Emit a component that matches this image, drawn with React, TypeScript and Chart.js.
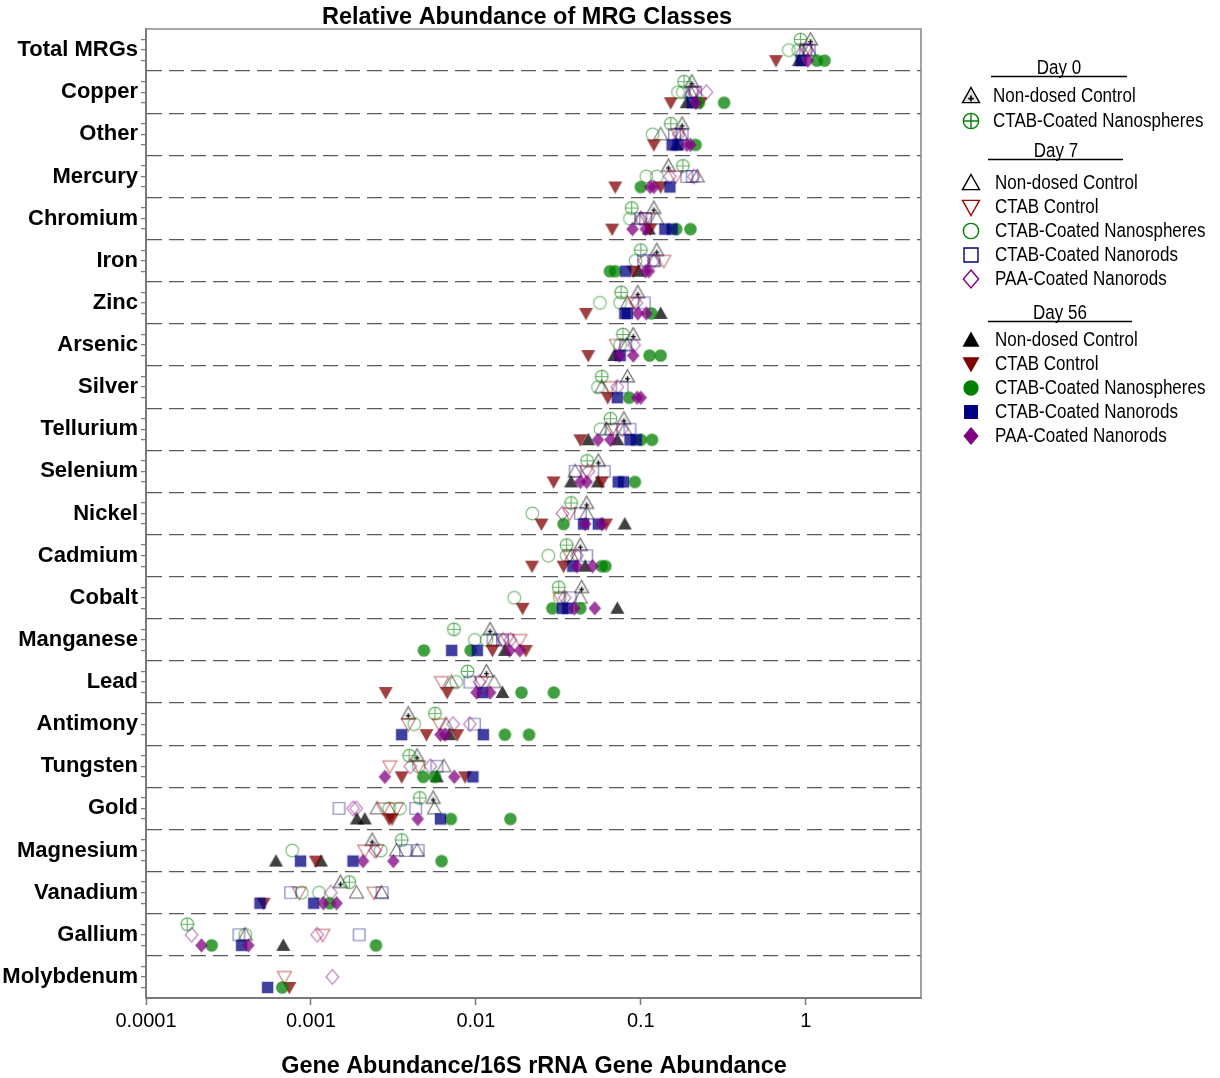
import React, { useEffect, useRef } from 'react';
import { Chart, registerables } from 'chart.js';

Chart.register(...registerables);

const FONT = "'Liberation Sans', Arial, Helvetica, sans-serif";

const categories = [
  'Total MRGs', 'Copper', 'Other', 'Mercury', 'Chromium', 'Iron', 'Zinc', 'Arsenic',
  'Silver', 'Tellurium', 'Selenium', 'Nickel', 'Cadmium', 'Cobalt', 'Manganese', 'Lead',
  'Antimony', 'Tungsten', 'Gold', 'Magnesium', 'Vanadium', 'Gallium', 'Molybdenum',
];

const xTickValues = [0.0001, 0.001, 0.01, 0.1, 1];
const xTickLabels = ['0.0001', '0.001', '0.01', '0.1', '1'];

const dayLabels = ['Day 0', 'Day 7', 'Day 56'];
const dayOffsets = [-0.25, 0, 0.25];

// Replicate values per MRG class (same order as categories)
const day0NonDosed = [[1.07], [0.204], [0.178], [0.147], [0.12], [0.125], [0.096], [0.09], [0.083], [0.079], [0.0553], [0.047], [0.043], [0.0438], [0.0122], [0.0116], [0.00389], [0.0044], [0.00551], [0.00235], [0.00151], [], []];
const day0Nanospheres = [[0.93], [0.183], [0.152], [0.18], [0.088], [0.1], [0.076], [0.078], [0.058], [0.0655], [0.0473], [0.0378], [0.0355], [0.0318], [0.00736], [0.0089], [0.00565], [0.00394], [0.00457], [0.00355], [0.00171], [0.000178], []];

const day7NonDosed = [[0.95, 1.05], [0.2], [0.132, 0.175], [0.22], [0.1, 0.125], [0.12], [0.083], [0.082], [0.058], [0.062, 0.08], [0.04], [0.047], [0.038], [0.043], [0.013], [0.0071, 0.0129], [0.0066], [0.0064], [0.00252, 0.0056], [0.0033, 0.0044], [0.00189, 0.00268], [0.0004], []];
const day7CtabControl = [[1.0], [0.21], [0.168], [0.163], [0.108], [0.138], [0.091], [0.071], [0.065], [0.067], [0.047], [0.037], [0.037], [0.0323], [0.0155, 0.0185], [0.0062, 0.0108], [0.0039, 0.006], [0.00301, 0.0045], [0.00274, 0.0033], [0.00212, 0.0025], [0.00085, 0.00241], [0.00118], [0.00069]];
const day7Nanospheres = [[0.79, 0.9], [0.168, 0.18], [0.118], [0.108, 0.125], [0.086], [0.093], [0.0565, 0.075], [0.075], [0.055], [0.057], [], [0.022], [0.0275, 0.0355], [0.0171, 0.0323], [0.00986, 0.0116], [0.0076], [0.00423], [0.0045], [0.00298, 0.00346], [0.00077, 0.00265], [0.00088, 0.00112], [0.0004], []];
const day7Nanorods = [[1.0, 1.05], [0.204, 0.215], [0.16, 0.178], [0.19, 0.205], [0.1, 0.107], [0.104, 0.12], [0.105], [0.081], [0.077], [0.066, 0.086], [0.04, 0.06], [0.043], [0.047], [0.0373], [0.0127, 0.0145], [0.0092], [0.0098], [0.0058], [0.00148, 0.00432], [0.00375, 0.00447], [0.000753, 0.0027], [0.000366, 0.00196], []];
const day7PaaNanorods = [[1.02], [0.21, 0.25], [0.17], [0.15, 0.21], [0.1], [0.105, 0.12], [0.094], [0.091], [0.072], [0.077], [0.048], [0.0335], [0.041], [0.0346], [0.0146, 0.0162], [0.0105], [0.00728, 0.0092], [0.004, 0.0053], [0.0018, 0.00188], [0.00245], [0.00132], [0.000189, 0.00109], [0.00135]];

const day56NonDosed = [[0.91], [0.19], [0.165], [], [0.112], [0.097], [0.132], [0.069], [], [0.048, 0.072], [0.0378, 0.055], [0.08], [0.046], [0.0721], [0.015], [0.0145], [0.0069], [0.0058], [0.0019, 0.00212], [0.000614, 0.00115], [], [0.00068], []];
const day56CtabControl = [[0.66], [0.152, 0.23], [0.12], [0.07, 0.132], [0.067, 0.114], [0.09], [0.0465], [0.048], [0.063], [0.043], [0.0296, 0.058], [0.025, 0.0615], [0.0219, 0.034], [0.0192], [0.0126, 0.0201], [0.00284, 0.0067], [0.00502, 0.0077], [0.00355, 0.0086], [0.00298, 0.0031], [0.00107], [0.000517], [], [0.00074]];
const day56Nanospheres = [[1.17, 1.3], [0.225, 0.32], [0.215], [0.1], [0.164, 0.2], [0.065, 0.07], [0.116], [0.113, 0.132], [0.085], [0.1, 0.117], [0.092], [0.034], [0.058, 0.061], [0.0291, 0.043], [0.00484, 0.0093], [0.0189, 0.0297], [0.015, 0.021], [0.0048, 0.00565], [0.00705, 0.0162], [0.0062], [0.0013], [0.00025, 0.00248], [0.00067]];
const day56Nanorods = [[0.94], [0.205], [0.155, 0.168], [0.15], [0.14, 0.155], [0.081], [0.08, 0.083], [0.075], [0.072], [0.086, 0.094], [0.073, 0.0785], [0.045, 0.0553], [0.0387], [0.0335, 0.036], [0.00713, 0.0102], [0.011], [0.00355, 0.0111], [0.0096], [0.0061], [0.000865, 0.0018], [0.000491, 0.00104], [0.00038], [0.000546]];
const day56PaaNanorods = [[1.03], [0.215], [0.19, 0.2], [0.114, 0.12], [0.089, 0.107], [0.107, 0.112], [0.096, 0.108], [0.074, 0.09], [0.095, 0.1], [0.055, 0.0655], [0.043, 0.047], [0.046, 0.058], [0.041, 0.051], [0.0396, 0.0526], [0.016, 0.0185], [0.0101, 0.0122], [0.0061, 0.0065], [0.00281, 0.0074], [0.00444], [0.00207, 0.00316], [0.00119, 0.00143], [0.000217, 0.000417], []];

type Shape = 'triPlus' | 'circlePlus' | 'triUp' | 'triDown' | 'circle' | 'square' | 'diamond';

interface SeriesDef {
  day: number;
  label: string;
  values: number[][];
  shape: Shape;
  rgb: string;
  filled: boolean;
}

const series: SeriesDef[] = [
  { day: 0, label: 'Non-dosed Control', values: day0NonDosed, shape: 'triPlus', rgb: '0,0,0', filled: false },
  { day: 0, label: 'CTAB-Coated Nanospheres', values: day0Nanospheres, shape: 'circlePlus', rgb: '0,128,0', filled: false },
  { day: 1, label: 'Non-dosed Control', values: day7NonDosed, shape: 'triUp', rgb: '0,0,0', filled: false },
  { day: 1, label: 'CTAB Control', values: day7CtabControl, shape: 'triDown', rgb: '160,0,0', filled: false },
  { day: 1, label: 'CTAB-Coated Nanospheres', values: day7Nanospheres, shape: 'circle', rgb: '0,128,0', filled: false },
  { day: 1, label: 'CTAB-Coated Nanorods', values: day7Nanorods, shape: 'square', rgb: '0,0,128', filled: false },
  { day: 1, label: 'PAA-Coated Nanorods', values: day7PaaNanorods, shape: 'diamond', rgb: '128,0,128', filled: false },
  { day: 2, label: 'Non-dosed Control', values: day56NonDosed, shape: 'triUp', rgb: '0,0,0', filled: true },
  { day: 2, label: 'CTAB Control', values: day56CtabControl, shape: 'triDown', rgb: '128,0,0', filled: true },
  { day: 2, label: 'CTAB-Coated Nanospheres', values: day56Nanospheres, shape: 'circle', rgb: '0,128,0', filled: true },
  { day: 2, label: 'CTAB-Coated Nanorods', values: day56Nanorods, shape: 'square', rgb: '0,0,128', filled: true },
  { day: 2, label: 'PAA-Coated Nanorods', values: day56PaaNanorods, shape: 'diamond', rgb: '128,0,128', filled: true },
];

function makeMarker(shape: Shape, size: number, rgb: string, filled: boolean, alpha: number, lw: number): HTMLCanvasElement {
  const dim = Math.ceil(size + lw * 2 + 4);
  const c = document.createElement('canvas');
  c.width = dim;
  c.height = dim;
  const g = c.getContext('2d') as CanvasRenderingContext2D;
  const r = size / 2;
  g.translate(dim / 2, dim / 2);
  g.lineWidth = lw;
  g.lineJoin = 'miter';
  const col = `rgba(${rgb},${alpha})`;
  g.beginPath();
  switch (shape) {
    case 'triUp':
    case 'triPlus':
      g.moveTo(0, -r);
      g.lineTo(r, r * 0.78);
      g.lineTo(-r, r * 0.78);
      g.closePath();
      break;
    case 'triDown':
      g.moveTo(0, r);
      g.lineTo(r, -r * 0.78);
      g.lineTo(-r, -r * 0.78);
      g.closePath();
      break;
    case 'circle':
    case 'circlePlus':
      g.arc(0, 0, r * 0.9, 0, Math.PI * 2);
      break;
    case 'square':
      g.rect(-r * 0.82, -r * 0.82, r * 1.64, r * 1.64);
      break;
    case 'diamond':
      g.moveTo(0, -r * 1.05);
      g.lineTo(r * 0.9, 0);
      g.lineTo(0, r * 1.05);
      g.lineTo(-r * 0.9, 0);
      g.closePath();
      break;
  }
  if (filled) {
    g.fillStyle = col;
    g.fill();
  } else {
    if (shape === 'triPlus') {
      g.fillStyle = `rgba(${rgb},${alpha * 0.12})`;
      g.fill();
    }
    g.strokeStyle = col;
    g.stroke();
  }
  if (shape === 'triPlus') {
    const a = Math.min(1, alpha * 1.7);
    g.strokeStyle = `rgba(${rgb},${a})`;
    g.lineWidth = lw * 1.2;
    g.beginPath();
    g.moveTo(-r * 0.32, r * 0.3);
    g.lineTo(r * 0.32, r * 0.3);
    g.moveTo(0, -r * 0.05);
    g.lineTo(0, r * 0.65);
    g.stroke();
  }
  if (shape === 'circlePlus') {
    g.beginPath();
    g.moveTo(-r * 0.9, 0);
    g.lineTo(r * 0.9, 0);
    g.moveTo(0, -r * 0.9);
    g.lineTo(0, r * 0.9);
    g.stroke();
  }
  return c;
}

const yTickValues: number[] = [];
categories.forEach((_, i) => {
  yTickValues.push(i - 0.25, i, i + 0.25);
  if (i < categories.length - 1) yTickValues.push(i + 0.5);
});
yTickValues.sort((a, b) => a - b);
const isBoundary = (v: number) => Math.abs(Math.abs(v - Math.round(v)) - 0.5) < 1e-6;

export default function App() {
  const canvasRef = useRef<HTMLCanvasElement | null>(null);

  useEffect(() => {
    const canvas = canvasRef.current;
    if (!canvas) return;

    const plotMarkers = series.map((s) =>
      makeMarker(s.shape, 14, s.rgb, s.filled, s.filled ? 0.75 : s.shape === 'circlePlus' ? 0.6 : s.shape === 'triPlus' ? 0.55 : 0.5, 1.2)
    );
    const legendMarkers = series.map((s) => makeMarker(s.shape, 17, s.rgb, s.filled, 1, 1.4));

    const datasets = series.map((s, si) => {
      const pts: { x: number; y: number }[] = [];
      s.values.forEach((vals, ci) => {
        vals.forEach((v) => pts.push({ x: v, y: ci + dayOffsets[s.day] }));
      });
      return {
        label: `${dayLabels[s.day]} ${s.label}`,
        data: pts,
        pointStyle: plotMarkers[si],
        pointRadius: 7,
        pointHoverRadius: 7,
        order: series.length - si,
      };
    });

    const legendLayout = [
      { titleX: 1059, titleBase: 74, line: [991, 1127, 76.5], rows: [96, 121], textX: 993 },
      { titleX: 1056, titleBase: 157, line: [988, 1123, 159.5], rows: [183, 207, 231, 255, 279], textX: 995 },
      { titleX: 1060, titleBase: 319, line: [988, 1132, 321.5], rows: [340, 364, 388, 412, 436], textX: 995 },
    ];

    const decor = {
      id: 'decor',
      afterDatasetsDraw(chart: Chart) {
        const { ctx, chartArea } = chart;
        ctx.save();
        ctx.strokeStyle = '#8c8c8c';
        ctx.lineWidth = 1.6;
        ctx.beginPath();
        ctx.moveTo(chartArea.left, chartArea.top);
        ctx.lineTo(chartArea.right, chartArea.top);
        ctx.lineTo(chartArea.right, chartArea.bottom);
        ctx.stroke();
        ctx.restore();
      },
      afterDraw(chart: Chart) {
        const { ctx } = chart;
        ctx.save();
        ctx.fillStyle = '#000';
        ctx.textBaseline = 'alphabetic';
        ctx.textAlign = 'center';
        ctx.font = `bold 23.5px ${FONT}`;
        ctx.fillText('Relative Abundance of MRG Classes', 527, 24);
        ctx.font = `bold 23.4px ${FONT}`;
        ctx.fillText('Gene Abundance/16S rRNA Gene Abundance', 534, 1073);

        legendLayout.forEach((grp, gi) => {
          ctx.save();
          ctx.font = `17px ${FONT}`;
          ctx.textAlign = 'center';
          ctx.textBaseline = 'alphabetic';
          ctx.translate(grp.titleX, grp.titleBase);
          ctx.scale(1, 1.14);
          ctx.fillText(dayLabels[gi], 0, 0);
          ctx.restore();
          ctx.strokeStyle = '#000';
          ctx.lineWidth = 1.3;
          ctx.beginPath();
          ctx.moveTo(grp.line[0], grp.line[2]);
          ctx.lineTo(grp.line[1], grp.line[2]);
          ctx.stroke();

          const members = series.map((s, i) => ({ s, i })).filter((m) => m.s.day === gi);
          members.forEach((m, k) => {
            const y = grp.rows[k];
            const img = legendMarkers[m.i];
            ctx.drawImage(img, 971 - img.width / 2, y - img.height / 2);
            ctx.save();
            ctx.font = `17px ${FONT}`;
            ctx.textAlign = 'left';
            ctx.textBaseline = 'middle';
            ctx.translate(grp.textX, y + 1);
            ctx.scale(1, 1.14);
            ctx.fillText(m.s.label, 0, 0);
            ctx.restore();
          });
        });
        ctx.restore();
      },
    };

    const chart = new Chart(canvas, {
      type: 'scatter',
      data: { datasets: datasets as any },
      options: {
        responsive: false,
        animation: false,
        events: [],
        layout: { padding: { top: 29, right: 299, left: 0, bottom: 0 } },
        plugins: {
          legend: { display: false },
          tooltip: { enabled: false },
          title: { display: false },
        },
        scales: {
          x: {
            type: 'logarithmic',
            position: 'bottom',
            min: 0.0001,
            max: 5,
            afterBuildTicks: (scale: any) => {
              scale.ticks = xTickValues.map((v) => ({ value: v }));
            },
            afterFit: (scale: any) => {
              scale.height = 80;
            },
            ticks: {
              autoSkip: false,
              maxRotation: 0,
              color: '#000',
              padding: 4,
              font: { family: FONT, size: 20 },
              callback: (_v: any, index: number) => xTickLabels[index],
            },
            grid: {
              drawOnChartArea: false,
              drawTicks: true,
              tickLength: 7,
              tickColor: '#777',
              tickWidth: 1.5,
            },
            border: { color: '#7a7a7a', width: 2 },
          },
          y: {
            type: 'linear',
            reverse: true,
            min: -0.5,
            max: categories.length - 0.5,
            afterBuildTicks: (scale: any) => {
              scale.ticks = yTickValues.map((v) => ({ value: v }));
            },
            afterFit: (scale: any) => {
              scale.width = 146;
            },
            ticks: {
              autoSkip: false,
              color: '#000',
              padding: 3,
              font: { family: FONT, size: 22, weight: 'bold' },
              callback: (v: any) => {
                const n = Number(v);
                return Number.isInteger(n) ? categories[n] : '';
              },
            },
            grid: {
              color: (c: any) => (c.tick && isBoundary(c.tick.value) ? '#5a5a5a' : 'rgba(0,0,0,0)'),
              lineWidth: 1.3,
              drawTicks: true,
              tickLength: 5,
              tickWidth: 1.2,
              tickColor: (c: any) => (c.tick && isBoundary(c.tick.value) ? 'rgba(0,0,0,0)' : '#777'),
            },
            border: { color: '#7a7a7a', width: 2, dash: [15, 7] },
          },
        },
      } as any,
      plugins: [decor as any],
    });

    return () => chart.destroy();
  }, []);

  return (
    <div style={{ position: 'absolute', left: 0, top: 0, width: 1220, height: 1078, background: '#fff' }}>
      <canvas ref={canvasRef} width={1220} height={1078} style={{ display: 'block' }} />
    </div>
  );
}
